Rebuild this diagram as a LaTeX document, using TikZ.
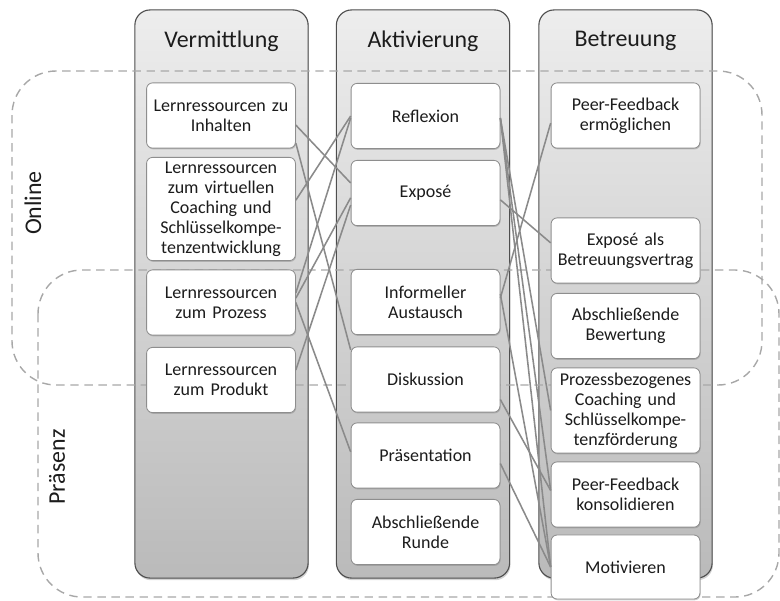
\documentclass[tikz,border=0pt]{standalone}
\usepackage{fontspec}
\setmainfont{Carlito}
\usetikzlibrary{positioning, shadows}

\definecolor{linkgray}{HTML}{8A8A8A}
\definecolor{zonegray}{HTML}{A8A8A8}
\definecolor{colframe}{HTML}{4E4E4E}
\definecolor{boxframe}{HTML}{8E8E8E}
\definecolor{ink}{HTML}{1C1C1C}

\tikzset{
  column/.style={draw=colframe, line width=0.8pt, rounded corners=0.38cm,
    top color=black!7, bottom color=black!27, minimum width=4.33cm, minimum height=14.2cm,
    drop shadow={shadow xshift=0.6pt, shadow yshift=-1.5pt, opacity=0.35}},
  heading/.style={font=\fontsize{17}{20}\selectfont, text=ink},
  item/.style={draw=boxframe, line width=0.6pt, fill=white, rounded corners=0.15cm,
    minimum width=3.72cm, minimum height=1.63cm, text width=3.6cm, align=center, inner sep=0pt,
    font=\fontsize{12.8}{14.2}\selectfont, text=ink,
    drop shadow={shadow xshift=0.5pt, shadow yshift=-0.9pt, opacity=0.4}},
  zone/.style={draw=zonegray, line width=1pt, dash pattern=on 6pt off 4pt, rounded corners=1.1cm},
  zonelabel/.style={rotate=90, font=\fontsize{17}{20}\selectfont, text=ink},
  link/.style={draw=linkgray, line width=1.1pt}
}

\begin{document}
\begin{tikzpicture}[x=0.025cm, y=-0.025cm]
\useasboundingbox (0,0) rectangle (780,600);

\node[column] (colV) at (221.5,294) {};
\node[column] (colA) at (423,294) {};
\node[column] (colB) at (625.5,294) {};
\node[heading] (hV) at (221.5,41) {Vermittlung};
\node[heading] (hA) at (423,41) {Aktivierung};
\node[heading] (hB) at (625.5,41) {Betreuung};

\draw[zone] (12,71) rectangle (762,385);
\draw[zone] (38,270) rectangle (779,597);
\node[zonelabel] (online) at (33,203) {Online};
\node[zonelabel] (praesenz) at (57,467) {Präsenz};

\node[item] (v1) at (221,115.5) {Lernressourcen zu\\Inhalten};
\node[item, minimum height=2.58cm] (v2) at (221,209) {Lernressourcen\\zum virtuellen\\Coaching und\\Schlüsselkompe-\\tenzentwicklung};
\node[item] (v3) at (221,302.5) {Lernressourcen\\zum Prozess};
\node[item] (v4) at (221,380) {Lernressourcen\\zum Produkt};

\node[item] (a1) at (425.5,116) {Reflexion};
\node[item] (a2) at (425.5,193) {Exposé};
\node[item] (a3) at (425.5,302) {Informeller\\Austausch};
\node[item] (a4) at (425.5,379.5) {Diskussion};
\node[item] (a5) at (425.5,455.5) {Präsentation};
\node[item] (a6) at (425.5,532) {Abschließende\\Runde};

\node[item] (b1) at (625.5,115.5) {Peer-Feedback\\ermöglichen};
\node[item] (b2) at (625.5,250.5) {Exposé als\\Betreuungsvertrag};
\node[item] (b3) at (625.5,326) {Abschließende\\Bewertung};
\node[item, minimum height=2.13cm] (b4) at (625.5,410.5) {Prozessbezogenes\\Coaching und\\Schlüsselkompe-\\tenzförderung};
\node[item] (b5) at (625.5,494.5) {Peer-Feedback\\konsolidieren};
\node[item, minimum height=1.6cm] (b6) at (625.5,567) {Motivieren};

\draw[link] ([yshift=-0.24cm]v1.east) -- ([yshift=0.25cm]a2.west);
\draw[link] ([yshift=-0.69cm]v1.east) -- ([yshift=0.74cm]a4.west);
\draw[link] ([yshift=0.22cm]v2.east) -- (a1.west);
\draw[link] ([yshift=0.24cm]v3.east) -- ([yshift=-0.05cm]a1.west);
\draw[link] ([yshift=0.11cm]v3.east) -- ([yshift=-0.12cm]a2.west);
\draw[link] (v3.east) -- ([yshift=0.09cm]a5.west);
\draw[link] ([yshift=0.25cm]v4.east) -- ([yshift=-0.3cm]a2.west);

\draw[link] ([yshift=-0.05cm]a1.east) -- (b6.west);
\draw[link] ([yshift=-0.05cm]a1.east) -- ([yshift=0.1cm]b5.west);
\draw[link] ([yshift=-0.05cm]a1.east) -- (b4.west);
\draw[link] ([yshift=-0.17cm]a2.east) -- ([yshift=0.19cm]b2.west);
\draw[link] ([yshift=0.1cm]a3.east) -- ([yshift=-0.19cm]b1.west);
\draw[link] ([yshift=0.2cm]a3.east) -- (b6.west);
\draw[link] ([yshift=-0.5cm]a4.east) -- ([yshift=0.1cm]b5.west);
\draw[link] ([yshift=-0.2cm]a5.east) -- (b6.west);
\end{tikzpicture}
\end{document}
